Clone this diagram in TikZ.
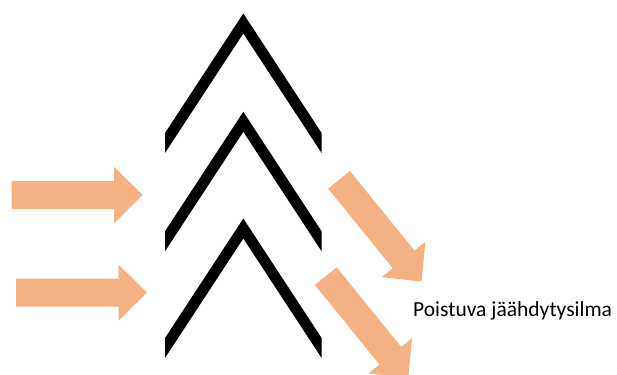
\documentclass[tikz,border=0pt]{standalone}
\usepackage{fontspec}
\setmainfont{Carlito}
\definecolor{arroworange}{HTML}{F4B183}
\begin{document}
\begin{tikzpicture}[x=1pt,y=-1pt,
  arrowfill/.style={fill=arroworange},
  chevfill/.style={fill=black},
  label/.style={inner sep=0pt,anchor=base west,font=\fontsize{21.5}{26}\selectfont},
  pics/blockarrow/.style={code={
    \fill[arrowfill] (0,-14) -- (102.5,-14) -- (102.5,-28) -- (131,0) -- (102.5,28) -- (102.5,14) -- (0,14) -- cycle;}},
  pics/chevron/.style={code={
    \fill[chevfill] (0,0) -- (78.3,119.5) -- (78.3,139.5) -- (0,20) -- (-78.3,139.5) -- (-78.3,119.5) -- cycle;}}
]
\useasboundingbox (0,0) rectangle (617,374);
\clip (0,0) rectangle (617,374);
% chevrons
\pic at (243.3,13.5) {chevron};
\pic at (243.3,111.8) {chevron};
\pic at (243.3,218.5) {chevron};
% incoming arrows
\pic at (11.7,195) {blockarrow};
\pic at (16,292.7) {blockarrow};
% outgoing arrows
\pic[rotate=-51] at (339.1,179.8) {blockarrow};
\pic[rotate=-51] at (325.8,276.1) {blockarrow};
% label
\node[label] (out) at (413,316.7) {Poistuva jäähdytysilma};
\end{tikzpicture}
\end{document}
